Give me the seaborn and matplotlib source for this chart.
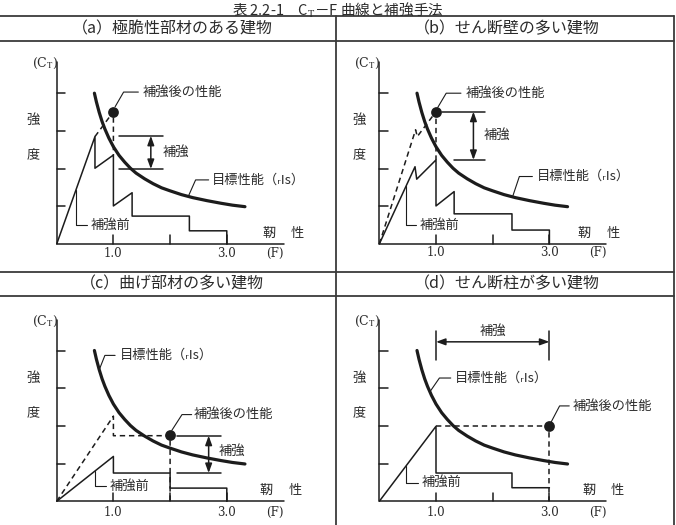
import matplotlib
matplotlib.use('Agg')
import matplotlib.pyplot as plt
import seaborn as sns

sns.set_theme(style='white')
plt.rcParams['font.family'] = ['Noto Sans CJK JP', 'DejaVu Sans']
plt.rcParams['mathtext.fontset'] = 'stix'

## Data (F = ductility, C = strength) ##

# target performance curve (same in all four panels)
target_F = [0.665, 0.70, 0.75, 0.80, 0.85, 0.92, 1.0, 1.1, 1.2, 1.3, 1.4, 1.55,
            1.7, 1.85, 2.0, 2.2, 2.4, 2.65, 2.9, 3.1, 3.32]
target_C = [4.0, 3.77, 3.49, 3.25, 3.05, 2.81, 2.58, 2.35, 2.17, 2.01, 1.88, 1.73,
            1.60, 1.49, 1.41, 1.31, 1.23, 1.15, 1.08, 1.03, 0.99]

# (a) brittle members
a_before_F = [0, 0.675, 0.675, 1.0, 1.0, 1.33, 1.33, 2.34, 2.34, 3.0, 3.0]
a_before_C = [0, 2.85, 2.01, 2.36, 1.01, 1.36, 0.74, 0.74, 0.35, 0.35, 0]
a_after_F = [0.675, 1.0, 1.0]
a_after_C = [2.85, 3.51, 2.36]
a_point_F = [1.0]
a_point_C = [3.51]

# (b) many shear walls
b_before_F = [0, 0.63, 0.66, 1.0, 1.0, 1.32, 1.32, 2.34, 2.34, 3.0, 3.0]
b_before_C = [0, 2.05, 1.72, 2.23, 1.01, 1.39, 0.80, 0.80, 0.37, 0.37, 0]
b_after_F = [0, 0.64, 0.67, 1.0, 1.0]
b_after_C = [0, 3.03, 2.85, 3.51, 2.23]
b_point_F = [1.0]
b_point_C = [3.51]

# (c) many flexural members
c_before_F = [0, 1.0, 1.0, 2.0, 2.0, 3.0, 3.0]
c_before_C = [0, 1.19, 0.75, 0.75, 0.35, 0.35, 0]
c_after_F = [0, 1.0, 1.0, 2.0, 2.0]
c_after_C = [0, 2.26, 1.74, 1.74, 0]
c_point_F = [2.0]
c_point_C = [1.75]

# (d) many shear columns
d_before_F = [0, 1.0, 1.0, 2.34, 2.34, 3.0]
d_before_C = [0, 1.99, 0.75, 0.75, 0.36, 0.36]
d_after_F = [1.0, 3.0, 3.0]
d_after_C = [1.99, 1.99, 0]
d_point_F = [3.0]
d_point_C = [1.99]

titles = ['（a）極脆性部材のある建物', '（b）せん断壁の多い建物',
          '（c）曲げ部材の多い建物', '（d）せん断柱が多い建物']

## Layout ##
W, H = 676, 525
XU, YU = 56.7, 37.7   # pixels per unit
INK = '#1c1c1c'
TXT = '#2b2b2b'
GRID = '#3a3a3a'
SERIF = ['DejaVu Serif']
FS = 9.5

fig = plt.figure(figsize=(W / 100, H / 100), dpi=100)

# table frame in pixel coords
bg = fig.add_axes([0, 0, 1, 1])
bg.set_xlim(0, W)
bg.set_ylim(H, 0)
bg.axis('off')
for yy in [16, 41, 272, 296]:
    bg.plot([0, 674], [yy, yy], color=GRID, lw=1.3)
bg.plot([336, 336], [16, 525], color=GRID, lw=1.3)
bg.plot([674, 674], [16, 525], color=GRID, lw=1.3)
bg.text(338, 0.5, '表 2.2-1　C$_\\mathrm{T}$－F 曲線と補強手法', ha='center', va='top',
        fontsize=10.5, color=TXT)
for (cx, cy), t in zip([(172, 29), (507, 29), (172, 284), (507, 284)], titles):
    bg.text(cx, cy, t, ha='center', va='center', fontsize=11.5, color=TXT)


def panel(cell, origin):
    x0, y0, x1, y1 = cell
    ox, oy = origin
    ax = fig.add_axes([x0 / W, 1 - y1 / H, (x1 - x0) / W, (y1 - y0) / H])
    ax.set_xlim((x0 - ox) / XU, (x1 - ox) / XU)
    ax.set_ylim((oy - y1) / YU, (oy - y0) / YU)
    ax.axis('off')
    return ax


def frame(ax, kx, lab_y, tough_x):
    ax.plot([0, 0, 4.0], [4.82, 0, 0], color=INK, lw=1.1)
    for c in [1, 2, 3, 4]:
        ax.plot([0, 0.15], [c, c], color=INK, lw=1.1)
    for f in [1, 2, 3]:
        ax.plot([f, f], [0, 0.23], color=INK, lw=1.1)
    ax.text(0.03, 4.78, '(C$_\\mathrm{T}$)', ha='right', va='center',
            family=SERIF, fontsize=9, color=TXT)
    ax.text(kx, 3.27, '強', ha='center', va='center', fontsize=FS, color=TXT)
    ax.text(kx, 2.36, '度', ha='center', va='center', fontsize=FS, color=TXT)
    ax.text(1.0, lab_y, '1.0', ha='center', va='center', family=SERIF, fontsize=8.5, color=TXT)
    ax.text(3.0, lab_y, '3.0', ha='center', va='center', family=SERIF, fontsize=8.5, color=TXT)
    ax.text(3.85, lab_y, '(F)', ha='center', va='center', family=SERIF, fontsize=8.5, color=TXT)
    ax.text(tough_x, 0.28, '靭', ha='center', va='center', fontsize=FS, color=TXT)
    ax.text(tough_x + 0.5, 0.28, '性', ha='center', va='center', fontsize=FS, color=TXT)


def curves(ax, bF, bC, aF, aC, pF, pC):
    sns.lineplot(x=target_F, y=target_C, ax=ax, color=INK, lw=2.3,
                 sort=False, estimator=None)
    sns.lineplot(x=bF, y=bC, ax=ax, color=INK, lw=1.1, sort=False, estimator=None)
    sns.lineplot(x=aF, y=aC, ax=ax, color=INK, lw=1.1, sort=False, estimator=None,
                 linestyle=(0, (3.5, 2.5)))
    sns.scatterplot(x=pF, y=pC, ax=ax, color=INK, s=60, linewidth=0, zorder=5)


def leader(ax, pts, label, tx, ty):
    ax.plot([p[0] for p in pts], [p[1] for p in pts], color=INK, lw=0.8)
    ax.text(tx, ty, label, ha='left', va='center', fontsize=FS, color=TXT)


def arrow(ax, p0, p1):
    ax.annotate('', xy=p1, xytext=p0,
                arrowprops=dict(arrowstyle='<|-|>,head_length=0.55,head_width=0.2',
                                mutation_scale=10, color=INK, lw=1.1,
                                shrinkA=0, shrinkB=0))


## (a) ##
ax = panel((0, 41, 336, 272), (56.7, 244))
frame(ax, -0.41, -0.24, 3.74)
curves(ax, a_before_F, a_before_C, a_after_F, a_after_C, a_point_F, a_point_C)
leader(ax, [(1.03, 3.64), (1.18, 4.03), (1.44, 4.03)], '補強後の性能', 1.51, 4.03)
leader(ax, [(2.32, 1.26), (2.45, 1.70), (2.68, 1.70)], '目標性能（ᵣIs）', 2.74, 1.70)
leader(ax, [(0.34, 1.44), (0.34, 0.5), (0.54, 0.5)], '補強前', 0.59, 0.5)
ax.plot([1.1, 1.87], [2.87, 2.87], color=INK, lw=1.1)
ax.plot([1.1, 1.87], [1.99, 1.99], color=INK, lw=1.1)
arrow(ax, (1.66, 1.99), (1.66, 2.87))
ax.text(1.86, 2.43, '補強', ha='left', va='center', fontsize=FS, color=TXT)

## (b) ##
ax = panel((336, 41, 674, 272), (379.3, 244))
frame(ax, -0.35, -0.22, 3.62)
curves(ax, b_before_F, b_before_C, b_after_F, b_after_C, b_point_F, b_point_C)
leader(ax, [(1.03, 3.62), (1.18, 4.0), (1.44, 4.0)], '補強後の性能', 1.52, 4.0)
leader(ax, [(2.35, 1.25), (2.47, 1.79), (2.70, 1.79)], '目標性能（ᵣIs）', 2.78, 1.79)
leader(ax, [(0.47, 1.53), (0.47, 0.5), (0.65, 0.5)], '補強前', 0.71, 0.5)
ax.plot([1.11, 1.87], [3.51, 3.51], color=INK, lw=1.1)
ax.plot([1.32, 1.87], [2.23, 2.23], color=INK, lw=1.1)
arrow(ax, (1.66, 2.23), (1.66, 3.51))
ax.text(1.84, 2.87, '補強', ha='left', va='center', fontsize=FS, color=TXT)

## (c) ##
ax = panel((0, 296, 336, 525), (56.7, 501.3))
frame(ax, -0.41, -0.30, 3.70)
curves(ax, c_before_F, c_before_C, c_after_F, c_after_C, c_point_F, c_point_C)
leader(ax, [(2.03, 1.88), (2.21, 2.30), (2.38, 2.30)], '補強後の性能', 2.42, 2.30)
leader(ax, [(0.75, 3.49), (0.85, 3.87), (1.03, 3.87)], '目標性能（ᵣIs）', 1.12, 3.87)
leader(ax, [(0.68, 0.81), (0.68, 0.40), (0.87, 0.40)], '補強前', 0.93, 0.40)
ax.plot([2.12, 2.89], [1.74, 1.74], color=INK, lw=1.1)
ax.plot([2.12, 2.89], [0.75, 0.75], color=INK, lw=1.1)
arrow(ax, (2.68, 0.75), (2.68, 1.74))
ax.text(2.85, 1.33, '補強', ha='left', va='center', fontsize=FS, color=TXT)

## (d) ##
ax = panel((336, 296, 674, 525), (379.3, 501.3))
frame(ax, -0.35, -0.30, 3.70)
curves(ax, d_before_F, d_before_C, d_after_F, d_after_C, d_point_F, d_point_C)
leader(ax, [(3.03, 2.10), (3.18, 2.53), (3.35, 2.53)], '補強後の性能', 3.41, 2.53)
leader(ax, [(0.89, 2.90), (1.06, 3.27), (1.26, 3.27)], '目標性能（ᵣIs）', 1.34, 3.27)
leader(ax, [(0.47, 0.94), (0.47, 0.49), (0.68, 0.49)], '補強前', 0.74, 0.49)
ax.plot([1.0, 1.0], [3.76, 4.51], color=INK, lw=1.1)
ax.plot([3.0, 3.0], [3.76, 4.51], color=INK, lw=1.1)
arrow(ax, (1.0, 4.23), (3.0, 4.23))
ax.text(2.0, 4.52, '補強', ha='center', va='center', fontsize=FS, color=TXT)

fig.savefig('out.png', dpi=100)
